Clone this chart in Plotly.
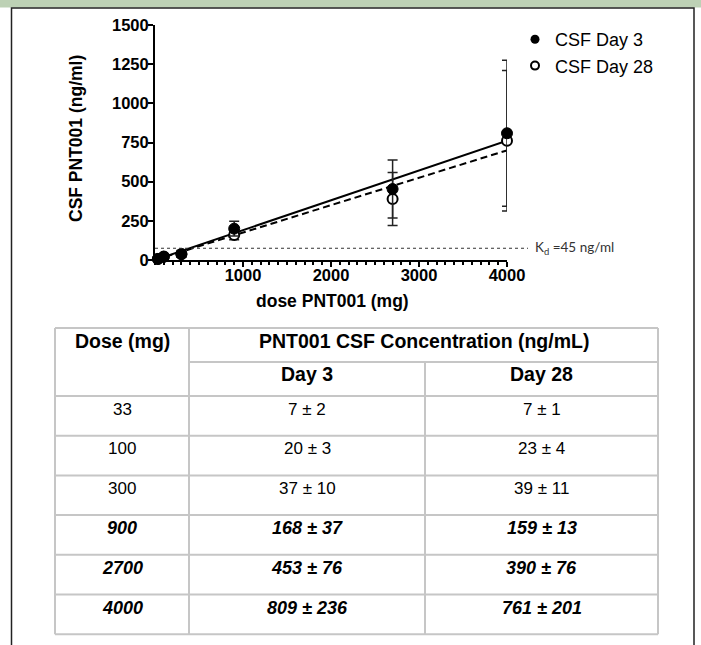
import plotly.graph_objects as go

# ---------------- data ----------------
doses = [33, 100, 300, 900, 2700, 4000]
day3_mean = [7, 20, 37, 200, 453, 809]
day3_err = [4, 6, 20, 47, 185, 466]
day28_mean = [7, 23, 39, 159, 390, 761]
day28_err = [3, 8, 22, 30, 169, 448]

fit_dose = [0, 4000]
fit_day3 = [0, 762]
fit_day28 = [0, 700]

kd_level = 75
kd_label = "K<sub>d</sub> =45 ng/ml"

x_ticks = [1000, 2000, 3000, 4000]
y_ticks = [0, 250, 500, 750, 1000, 1250, 1500]

series_names = ["CSF Day 3", "CSF Day 28"]
x_title = "dose PNT001 (mg)"
y_title = "CSF PNT001 (ng/ml)"

table_header = ["Dose (mg)", "PNT001 CSF Concentration (ng/mL)"]
table_subheader = ["Day 3", "Day 28"]
table_dose = ["33", "100", "300", "900", "2700", "4000"]
table_day3 = ["7 ± 2", "20 ± 3", "37 ± 10", "168 ± 37", "453 ± 76", "809 ± 236"]
table_day28 = ["7 ± 1", "23 ± 4", "39 ± 11", "159 ± 13", "390 ± 76", "761 ± 201"]
table_emph = [False, False, False, True, True, True]

# ---------------- layout helpers ----------------
W, H = 701, 645
ML, MR, MT, MB = 155, 194, 25, 385
PW = W - ML - MR
PH = H - MT - MB


def PX(x):
    return (x - ML) / PW


def PY(y):
    return (H - MB - y) / PH


FONT = "Liberation Sans, Arial, Helvetica, sans-serif"

fig = go.Figure()

fig.add_trace(go.Scatter(x=fit_dose, y=fit_day3, mode="lines",
                         line=dict(color="black", width=2), showlegend=False,
                         hoverinfo="skip"))
fig.add_trace(go.Scatter(x=fit_dose, y=fit_day28, mode="lines",
                         line=dict(color="black", width=2, dash="7px,4px"),
                         showlegend=False, hoverinfo="skip"))

fig.add_trace(go.Scatter(
    x=doses, y=day28_mean, mode="markers", name=series_names[1],
    marker=dict(symbol="circle", size=10, color="white",
                line=dict(color="black", width=2)),
    error_y=dict(type="data", array=day28_err, visible=True, color="#222",
                 thickness=1.5, width=5),
    cliponaxis=False, showlegend=False))
fig.add_trace(go.Scatter(
    x=doses, y=day3_mean, mode="markers", name=series_names[0],
    marker=dict(symbol="circle", size=11, color="black",
                line=dict(color="black", width=1)),
    error_y=dict(type="data", array=day3_err, visible=True, color="#222",
                 thickness=1.5, width=5),
    cliponaxis=False, showlegend=False))

# legend entries
fig.add_trace(go.Scatter(x=[None], y=[None], mode="markers", name=series_names[0],
                         marker=dict(symbol="circle", size=9, color="black")))
fig.add_trace(go.Scatter(x=[None], y=[None], mode="markers", name=series_names[1],
                         marker=dict(symbol="circle", size=8, color="white",
                                     line=dict(color="black", width=2))))

shapes = []
annotations = []

# green banner and frame
shapes.append(dict(type="rect", xref="paper", yref="paper",
                   x0=PX(0), x1=PX(W), y0=PY(0), y1=PY(7.5),
                   fillcolor="#bdd1b5", line=dict(width=0), layer="below"))
shapes.append(dict(type="path", xref="paper", yref="paper",
                   path=f"M {PX(11.5)} {PY(H)} L {PX(11.5)} {PY(8)} L {PX(694)} {PY(8)} L {PX(694)} {PY(H)}",
                   line=dict(color="#222", width=1.5)))

# Kd dotted line
shapes.append(dict(type="line", xref="paper", yref="y",
                   x0=0, x1=PX(528), y0=kd_level, y1=kd_level,
                   line=dict(color="#333", width=1, dash="dot")))
annotations.append(dict(text=kd_label, xref="paper", yref="y",
                        x=PX(533), y=kd_level, xanchor="left", yanchor="middle",
                        showarrow=False, font=dict(family="Lato, Open Sans, sans-serif",
                                                   size=13.5, color="#333")))

# axis titles
annotations.append(dict(text=y_title, xref="paper", yref="paper",
                        x=PX(75.5), y=PY(138.5), textangle=-90,
                        xanchor="center", yanchor="middle", showarrow=False,
                        font=dict(family=FONT, size=17.5, color="black", weight="bold")))
annotations.append(dict(text=x_title, xref="paper", yref="paper",
                        x=PX(332), y=PY(301), xanchor="center", yanchor="middle",
                        showarrow=False,
                        font=dict(family=FONT, size=17.5, color="black", weight="bold")))

# ---------------- table ----------------
T_L, T_R = 55, 658
C1, C2 = 189, 425
T_TOP, T_SUB, T_BODY = 328, 362, 396
ROW_H = 39.7
T_BOT = T_BODY + ROW_H * len(table_dose)
GRID = dict(color="#c6c6c6", width=2)


def hline(y, x0, x1):
    shapes.append(dict(type="line", xref="paper", yref="paper",
                       x0=PX(x0), x1=PX(x1), y0=PY(y), y1=PY(y), line=GRID))


def vline(x, y0, y1):
    shapes.append(dict(type="line", xref="paper", yref="paper",
                       x0=PX(x), x1=PX(x), y0=PY(y0), y1=PY(y1), line=GRID))


hline(T_TOP, T_L, T_R)
hline(T_SUB, C1, T_R)
for i in range(len(table_dose) + 1):
    hline(T_BODY + i * ROW_H, T_L, T_R)
vline(T_L, T_TOP, T_BOT)
vline(C1, T_TOP, T_BOT)
vline(C2, T_SUB, T_BOT)
vline(T_R, T_TOP, T_BOT)

col_c = [(T_L + C1) / 2, (C1 + C2) / 2, (C2 + T_R) / 2]


def cell(text, x, y, bold=False, italic=False, size=17):
    annotations.append(dict(text=text, xref="paper", yref="paper", x=PX(x), y=PY(y),
                            xanchor="center", yanchor="middle", showarrow=False,
                            font=dict(family=FONT, size=size, color="black",
                                      weight="bold" if bold else "normal",
                                      style="italic" if italic else "normal")))


cell(table_header[0], col_c[0], T_TOP + 12.5, bold=True, size=19.5)
cell(table_header[1], (C1 + T_R) / 2, T_TOP + 12.5, bold=True, size=19.5)
cell(table_subheader[0], col_c[1], T_SUB + 12, bold=True, size=19.5)
cell(table_subheader[1], col_c[2], T_SUB + 12, bold=True, size=19.5)
for i in range(len(table_dose)):
    yc = T_BODY + i * ROW_H + 13
    e = table_emph[i]
    cell(table_dose[i], col_c[0], yc, bold=e, italic=e, size=18 if e else 17)
    cell(table_day3[i], col_c[1], yc, bold=e, italic=e, size=18 if e else 17)
    cell(table_day28[i], col_c[2], yc, bold=e, italic=e, size=18 if e else 17)

fig.update_layout(
    width=W, height=H,
    margin=dict(l=ML, r=MR, t=MT, b=MB, pad=0),
    paper_bgcolor="white", plot_bgcolor="white",
    font=dict(family=FONT, color="black"),
    shapes=shapes, annotations=annotations,
    legend=dict(x=PX(515), y=PY(21), xanchor="left", yanchor="top",
                bgcolor="rgba(0,0,0,0)", font=dict(family=FONT, size=18, color="black"),
                itemclick=False, tracegroupgap=0),
    xaxis=dict(range=[0, 4000], showline=True, linecolor="black", linewidth=2,
               ticks="outside", ticklen=5, tickwidth=2, tickcolor="black",
               tickvals=x_ticks, showgrid=False, zeroline=False,
               ticklabelstandoff=-6,
               tickfont=dict(family=FONT, size=16.5, color="black", weight="bold"),
               minor=dict(ticks="outside", ticklen=3, tickwidth=1.5, tickcolor="black",
                          tick0=0, dtick=100, showgrid=False)),
    yaxis=dict(range=[0, 1500], showline=True, linecolor="black", linewidth=2,
               ticks="outside", ticklen=5, tickwidth=2, tickcolor="black",
               tickvals=y_ticks, showgrid=False, zeroline=False,
               ticklabelstandoff=-4,
               tickfont=dict(family=FONT, size=16.5, color="black", weight="bold")),
)

fig.write_html("out.html", config={"displayModeBar": False},
               post_script="document.body.style.margin='0';")
